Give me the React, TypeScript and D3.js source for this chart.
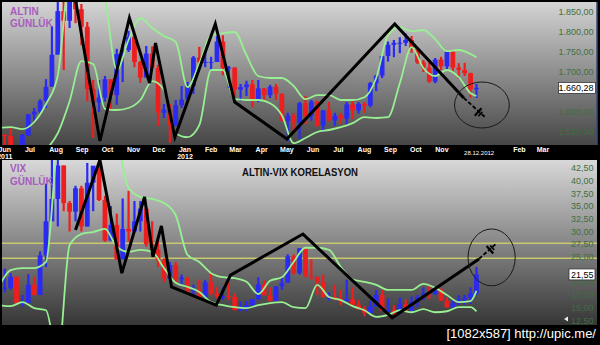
import React from 'react';
import * as d3 from 'd3';

// ---------- DATA ----------
// weekly bars, first week centred on Wed 8 Jun 2011
const WEEK0 = new Date(2011, 5, 8);

const goldOpen0 = 1535;
const goldHigh = [
  1550, 1545, 1560, 1515, 1545, 1595, 1610, 1632, 1682, 1815, 1880, 1912, 1885, 1921, 1870, 1825, 1680, 1680, 1690, 1680, 1758, 1770, 1803, 1795, 1728, 1765, 1764, 1718, 1620, 1620,
  1630, 1665, 1675, 1740, 1763, 1765, 1738, 1790, 1792, 1715, 1712, 1670, 1678, 1680, 1680, 1660, 1668, 1670, 1647, 1598, 1597, 1625, 1640, 1630, 1628, 1605, 1625, 1598, 1598, 1625,
  1628, 1625, 1625, 1675, 1693, 1740, 1776, 1780, 1787, 1796, 1790, 1755, 1730, 1725, 1735, 1738, 1752, 1755, 1722, 1723, 1698, 1670,
];
const goldLow = [
  1525, 1515, 1495, 1478, 1485, 1540, 1575, 1595, 1610, 1680, 1745, 1705, 1810, 1822, 1767, 1627, 1535, 1600, 1626, 1604, 1618, 1675, 1750, 1712, 1673, 1690, 1706, 1565, 1585, 1523,
  1565, 1610, 1628, 1645, 1722, 1712, 1705, 1727, 1692, 1660, 1635, 1627, 1640, 1612, 1625, 1627, 1635, 1630, 1577, 1527, 1550, 1532, 1570, 1578, 1563, 1550, 1576, 1565, 1570, 1565,
  1582, 1596, 1598, 1612, 1652, 1685, 1726, 1737, 1747, 1765, 1748, 1720, 1700, 1673, 1672, 1705, 1705, 1700, 1683, 1690, 1636, 1635,
];
const goldClose = [
  1543, 1540, 1502, 1485, 1542, 1594, 1601, 1628, 1663, 1743, 1852, 1828, 1876, 1857, 1813, 1658, 1624, 1636, 1682, 1642, 1745, 1755, 1788, 1725, 1686, 1746, 1710, 1598, 1606, 1566,
  1617, 1631, 1665, 1736, 1725, 1725, 1725, 1776, 1710, 1711, 1656, 1662, 1669, 1631, 1659, 1642, 1663, 1645, 1578, 1591, 1573, 1622, 1590, 1626, 1566, 1604, 1579, 1591, 1583, 1619,
  1604, 1620, 1616, 1672, 1691, 1740, 1768, 1773, 1773, 1780, 1757, 1724, 1711, 1676, 1731, 1714, 1751, 1711, 1705, 1697, 1657, 1660.28,
];

const vixOpen0 = 17;
const vixHigh = [
  20, 22.7, 21.8, 20.8, 17.5, 21.6, 21.1, 26.1, 39.4, 48, 45, 43, 36, 39, 39, 43.5, 42, 46.9, 37, 35, 33.5, 36.5, 38, 36, 36, 34, 32, 29, 24.7, 24,
  24, 21.5, 21, 19.5, 20.5, 20.5, 22, 19, 19, 21.1, 17.8, 16.2, 16.3, 16.7, 21, 20.4, 19, 19.2, 21, 25.5, 25.5, 26.7, 25, 24.5, 21, 21.5, 18, 19.5, 18.5, 20.5,
  19, 16.5, 15.3, 16.3, 18.5, 18.5, 16.8, 15.5, 17, 16.6, 17.2, 17.5, 19, 19.5, 19.2, 18.8, 17, 16.8, 17.5, 17.5, 19, 23,
];
const vixLow = [
  16.5, 18, 18.5, 15.8, 15.2, 17.2, 17.4, 19, 23, 33, 31, 34, 30, 32, 30, 31, 34, 36, 28, 29, 24.5, 26, 28, 30, 30, 27, 25, 23, 20, 20.5,
  20, 19.5, 18, 17.5, 17, 17, 17.5, 16.8, 16.5, 16.5, 14.5, 14.3, 14.3, 15, 16.5, 17.5, 16.3, 16.3, 18.5, 20, 21.5, 21.5, 21, 20.5, 17.5, 17, 16.4, 16.5, 15.5, 16.2,
  15.5, 14.7, 13.3, 13.5, 15.3, 14.4, 14.1, 13.3, 13.8, 14.2, 14.3, 15.1, 16.5, 16.7, 17.6, 16.3, 15, 15, 15.5, 15.6, 15.7, 17.5,
];
const vixClose = [
  18.9, 18.9, 21.1, 15.9, 15.95, 19.5, 17.5, 25.3, 32, 36.4, 43, 35.6, 33.9, 38.5, 30.98, 39.6, 42.96, 36.2, 28.2, 31.3, 24.5, 30.5, 30, 32, 34.5, 27.5, 26.4, 24.3, 20.7, 23.4,
  20.6, 20.9, 18.3, 18.5, 17.1, 20, 17.8, 17.3, 17.3, 17.1, 14.5, 14.8, 15.5, 16.7, 19.6, 17.4, 16.3, 19.2, 19.9, 25.1, 21.8, 26.7, 21.2, 21.1, 20.1, 17.1, 17.1, 16.7, 16.3, 16.7,
  15.6, 14.7, 14.0, 15.2, 17.5, 14.4, 14.5, 13.9, 15.7, 14.3, 16.1, 17.1, 17.8, 17.6, 18.6, 16.4, 15.1, 15.9, 16.6, 17.0, 17.8, 21.55,
];

// bands sampled every second week (weeks 0,2,...,80) plus the last week
const goldUpper = [1560, 1562, 1557, 1575, 1620, 1692, 1950, 2000, 1990, 1885, 1705, 1780, 1835, 1810, 1790, 1775, 1662, 1722, 1792, 1797, 1800, 1742, 1690, 1685, 1685, 1665, 1632, 1642, 1642, 1630, 1630, 1637, 1685, 1792, 1812, 1802, 1805, 1782, 1752, 1755, 1745, 1737];
const goldLower = [1480, 1490, 1480, 1470, 1505, 1547, 1627, 1727, 1720, 1608, 1605, 1610, 1630, 1677, 1655, 1547, 1537, 1567, 1705, 1705, 1632, 1630, 1630, 1622, 1592, 1522, 1535, 1550, 1555, 1562, 1572, 1587, 1585, 1587, 1672, 1762, 1710, 1690, 1705, 1687, 1647, 1640];
const vixUpper = [19.1, 22.4, 22.8, 22.8, 24.0, 48, 55, 55, 55, 52, 48, 38.6, 36.8, 36.4, 35.6, 33.2, 25.4, 24.0, 21.8, 21.0, 20.8, 20.1, 17.7, 20.3, 21.0, 24.0, 26.8, 26.8, 26.4, 23.0, 20.6, 20.1, 19.5, 18.5, 18.5, 18.5, 19.7, 18.9, 17.5, 16.1, 16.3, 18.3];
const vixLower = [15.5, 15.3, 16.1, 14.9, 14.5, 5, 27.3, 29.5, 29.9, 30.5, 27.0, 26.0, 26.4, 26.0, 22.8, 19.9, 19.1, 18.1, 16.1, 15.5, 15.1, 14.9, 15.5, 15.9, 16.1, 15.1, 14.9, 19.5, 17.1, 16.5, 15.3, 14.5, 13.2, 13.6, 14.5, 14.1, 14.7, 14.1, 14.3, 15.1, 15.1, 14.3];

// hand-drawn trend lines
const goldTrend: [string, number][] = [
  ['2011-09-07', 1880], ['2011-10-06', 1527.5], ['2011-11-10', 1835], ['2011-12-04', 1672.5], ['2011-12-11', 1772.5],
  ['2012-01-03', 1537.5], ['2012-02-20', 1820], ['2012-03-14', 1625], ['2012-05-15', 1532.5], ['2012-09-20', 1820], ['2012-12-11', 1635],
];
const goldProjection: [string, number][] = [['2012-12-11', 1635], ['2013-01-05', 1587.5]];
const goldCross: [string, number] = ['2012-12-28', 1600];
const goldCircleDates = ['2012-11-30', '2013-02-03'];
const goldCircleValues = [1675, 1560];

const vixTrend: [string, number][] = [
  ['2011-09-07', 30.3], ['2011-10-06', 44.1], ['2011-11-01', 21.8], ['2011-11-28', 36.8], ['2011-12-08', 25.0], ['2011-12-18', 31.1],
  ['2011-12-30', 19.1], ['2012-02-21', 15.5], ['2012-03-09', 21.4], ['2012-06-03', 29.5], ['2012-09-17', 13.0], ['2012-12-29', 24.6],
];
const vixProjection: [string, number][] = [['2012-12-29', 24.6], ['2013-01-19', 27.7]];
const vixCross: [string, number] = ['2013-01-11', 26.4];
const vixCircleDates = ['2012-12-16', '2013-02-10'];
const vixCircleValues = [30.5, 19.3];
const vixLevels = [27.68, 24.72];

const goldTicks = [1550, 1600, 1650, 1700, 1750, 1800, 1850];
const vixTicks = [12.5, 15, 17.5, 20, 22.5, 25, 27.5, 30, 32.5, 35, 37.5, 40, 42.5];
const monthStart = new Date(2011, 5, 1);
const monthEnd = new Date(2013, 3, 1);
const cursorDate = '2012-12-28';

const TITLE = 'ALTIN-VIX KORELASYON';
const FOOTER = '[1082x587] http://upic.me/';

// ---------- LAYOUT ----------
const W = 600, H = 345;
const TOP = { x0: 2, x1: 597, y0: 2, y1: 145 };
const BOT = { x0: 2, x1: 597, y0: 160, y1: 325 };
const UP = '#2a2af2';
const DOWN = '#ee1e1e';
const BAND = '#98f092';
const AXIS_TXT = '#3f6f3f';
const PURPLE = '#a65dbd';
const FONT = 'Liberation Sans, Arial, sans-serif';

const parse = d3.timeParse('%Y-%m-%d');
const trLocale = d3.formatLocale({ decimal: ',', thousands: '.', grouping: [3], currency: ['', ''] });
const fmt2 = trLocale.format(',.2f');

function Bars({ x, y, high, low, close, open0 }: any) {
  const dates = close.map((_: number, i: number) => d3.timeWeek.offset(WEEK0, i));
  return (
    <g>
      {close.map((c: number, i: number) => {
        const o = i === 0 ? open0 : close[i - 1];
        const col = c >= o ? UP : DOWN;
        const cx = x(dates[i]);
        const yo = y(o), yc = y(c);
        return (
          <g key={i}>
            <line x1={cx} x2={cx} y1={y(high[i])} y2={y(low[i])} stroke={col} strokeWidth={2.2} />
            <rect x={cx - 2.4} width={4.8} y={Math.min(yo, yc)} height={Math.max(1, Math.abs(yo - yc))} fill={col} />
          </g>
        );
      })}
    </g>
  );
}

function Bands({ x, y, upper, lower }: any) {
  const idx = d3.range(0, 81, 2).concat([81]);
  const dates = idx.map((i: number) => d3.timeWeek.offset(WEEK0, i));
  const line = (vals: number[]) =>
    d3.line<number>().x((_, i) => x(dates[i])).y((v) => y(v)).curve(d3.curveMonotoneX)(vals) || '';
  return (
    <g fill="none" stroke={BAND} strokeWidth={1.8}>
      <path d={line(upper)} />
      <path d={line(lower)} />
    </g>
  );
}

function Trend({ x, y, trend, proj, cross, cDates, cVals }: any) {
  const ln = d3.line<[string, number]>().x((d) => x(parse(d[0]))).y((d) => y(d[1]));
  const p0 = [x(parse(proj[0][0])), y(proj[0][1])];
  const p1 = [x(parse(proj[1][0])), y(proj[1][1])];
  const dx = p1[0] - p0[0], dy = p1[1] - p0[1];
  const len = Math.hypot(dx, dy);
  const nx = -dy / len, ny = dx / len;
  const cx = x(parse(cross[0])), cy = y(cross[1]);
  const ex0 = x(parse(cDates[0])), ex1 = x(parse(cDates[1]));
  const ey0 = y(cVals[0]), ey1 = y(cVals[1]);
  return (
    <g>
      <path d={ln(trend) || ''} fill="none" stroke="#000" strokeWidth={3} strokeLinejoin="miter" />
      <path d={ln(proj) || ''} fill="none" stroke="#000" strokeWidth={1.8} strokeDasharray="4,2" />
      <line x1={cx - nx * 5} y1={cy - ny * 5} x2={cx + nx * 5} y2={cy + ny * 5} stroke="#000" strokeWidth={2.2} />
      <line x1={cx - nx * 3 + dx / len * 3} y1={cy - ny * 3 + dy / len * 3} x2={cx + nx * 3 + dx / len * 3} y2={cy + ny * 3 + dy / len * 3} stroke="#000" strokeWidth={1.6} />
      <ellipse cx={(ex0 + ex1) / 2} cy={(ey0 + ey1) / 2} rx={Math.abs(ex1 - ex0) / 2} ry={Math.abs(ey1 - ey0) / 2} fill="none" stroke="#1a1a1a" strokeWidth={1} />
    </g>
  );
}

export default function App() {
  const x = d3.scaleTime().domain([new Date(2011, 6, 15), new Date(2013, 2, 15)]).range([30, 543]);
  const yG = d3.scaleLinear().domain([1550, 1850]).range([132, 12]);
  const yV = d3.scaleLinear().domain([12.5, 42.5]).range([320.4, 168]);

  const months = d3.timeMonth.range(monthStart, monthEnd);
  const cDate = parse(cursorDate) as Date;
  const cx = x(cDate);
  const lastG = goldClose[goldClose.length - 1];
  const lastV = vixClose[vixClose.length - 1];
  const gTicksShown = goldTicks.filter((t) => Math.abs(yG(t) - yG(lastG)) > 7);
  const vTicksShown = vixTicks.filter((t) => Math.abs(yV(t) - yV(lastV)) > 7);
  const monthsShown = months.filter((m) => Math.abs(x(new Date(m.getFullYear(), m.getMonth(), 15)) - cx) > 22);

  return (
    <svg width={W} height={H} style={{ position: 'absolute', left: 0, top: 0, display: 'block' }} fontFamily={FONT}>
      <defs>
        <linearGradient id="bgTop" x1="0" y1="0" x2="0" y2="1">
          <stop offset="0" stopColor="#d4d4d4" />
          <stop offset="1" stopColor="#464646" />
        </linearGradient>
        <linearGradient id="bgBot" x1="0" y1="0" x2="0" y2="1">
          <stop offset="0" stopColor="#d8d8d8" />
          <stop offset="1" stopColor="#363636" />
        </linearGradient>
        <clipPath id="clipTop"><rect x={TOP.x0} y={TOP.y0} width={TOP.x1 - TOP.x0} height={TOP.y1 - TOP.y0} /></clipPath>
        <clipPath id="clipBot"><rect x={BOT.x0} y={BOT.y0} width={BOT.x1 - BOT.x0} height={BOT.y1 - BOT.y0} /></clipPath>
      </defs>
      <rect x={0} y={0} width={W} height={H} fill="#000" />

      {/* TOP PANEL */}
      <rect x={TOP.x0} y={TOP.y0} width={TOP.x1 - TOP.x0} height={TOP.y1 - TOP.y0} fill="url(#bgTop)" />
      <g clipPath="url(#clipTop)">
        <Bars x={x} y={yG} high={goldHigh} low={goldLow} close={goldClose} open0={goldOpen0} />
        <Bands x={x} y={yG} upper={goldUpper} lower={goldLower} />
        <Trend x={x} y={yG} trend={goldTrend} proj={goldProjection} cross={goldCross} cDates={goldCircleDates} cVals={goldCircleValues} />
        {gTicksShown.map((t) => (
          <text key={t} x={593.5} y={yG(t)} dy="0.35em" textAnchor="end" fontSize={9} fill={AXIS_TXT}>{fmt2(t)}</text>
        ))}
        <rect x={558.5} y={yG(lastG) - 5.5} width={37} height={11} fill="#fff" stroke="#333" strokeWidth={0.8} />
        <text x={593.5} y={yG(lastG)} dy="0.35em" textAnchor="end" fontSize={9} fill="#000">{fmt2(lastG)}</text>
        <text x={10} y={15} fontSize={10} fontWeight="bold" fill={PURPLE}>ALTIN</text>
        <text x={10} y={27} fontSize={10} fontWeight="bold" fill={PURPLE}>GÜNLÜK</text>
      </g>
      <line x1={597} x2={597} y1={TOP.y0} y2={TOP.y1} stroke="#3a4a7a" strokeWidth={1.5} />

      {/* TIME AXIS */}
      {monthsShown.map((m, i) => {
        const mid = new Date(m.getFullYear(), m.getMonth(), 15);
        const px = x(mid);
        const yr = m.getTime() === monthStart.getTime() || m.getMonth() === 0;
        return (
          <g key={i} fill="#fff" fontSize={7} fontWeight="bold">
            <text x={px} y={151.5} textAnchor="middle">{d3.timeFormat('%b')(m)}</text>
            {yr && <text x={px} y={159} textAnchor="middle">{d3.timeFormat('%Y')(m)}</text>}
          </g>
        );
      })}
      <text x={cx + 1} y={154.5} textAnchor="middle" fontSize={6} fill="#fff">{d3.timeFormat('%d.%m.%Y')(cDate)}</text>

      {/* BOTTOM PANEL */}
      <rect x={BOT.x0} y={BOT.y0} width={BOT.x1 - BOT.x0} height={BOT.y1 - BOT.y0} fill="url(#bgBot)" />
      <g clipPath="url(#clipBot)">
        {vixLevels.map((v) => (
          <line key={v} x1={BOT.x0} x2={BOT.x1} y1={yV(v)} y2={yV(v)} stroke="#c9c86a" strokeWidth={1.5} />
        ))}
        <Bars x={x} y={yV} high={vixHigh} low={vixLow} close={vixClose} open0={vixOpen0} />
        <Bands x={x} y={yV} upper={vixUpper} lower={vixLower} />
        <Trend x={x} y={yV} trend={vixTrend} proj={vixProjection} cross={vixCross} cDates={vixCircleDates} cVals={vixCircleValues} />
        {vTicksShown.map((t) => (
          <text key={t} x={593.5} y={yV(t)} dy="0.35em" textAnchor="end" fontSize={9} fill={AXIS_TXT}>{fmt2(t)}</text>
        ))}
        <rect x={569} y={yV(lastV) - 5.5} width={26} height={11} fill="#fff" stroke="#333" strokeWidth={0.8} />
        <text x={593.5} y={yV(lastV)} dy="0.35em" textAnchor="end" fontSize={9} fill="#000">{fmt2(lastV)}</text>
        <text x={300} y={176} textAnchor="middle" fontSize={11} fontWeight="bold" fill="#111" textLength={116} lengthAdjust="spacingAndGlyphs">{TITLE}</text>
        <text x={10} y={172} fontSize={10} fontWeight="bold" fill={PURPLE}>VIX</text>
        <text x={10} y={185} fontSize={10} fontWeight="bold" fill={PURPLE}>GÜNLÜK</text>
        <polygon points="564,319 568,316.5 568,321.5" fill="#eee" />
      </g>

      {/* FOOTER */}
      <text x={596} y={338} textAnchor="end" fontSize={13} fill="#fff">{FOOTER}</text>
    </svg>
  );
}
